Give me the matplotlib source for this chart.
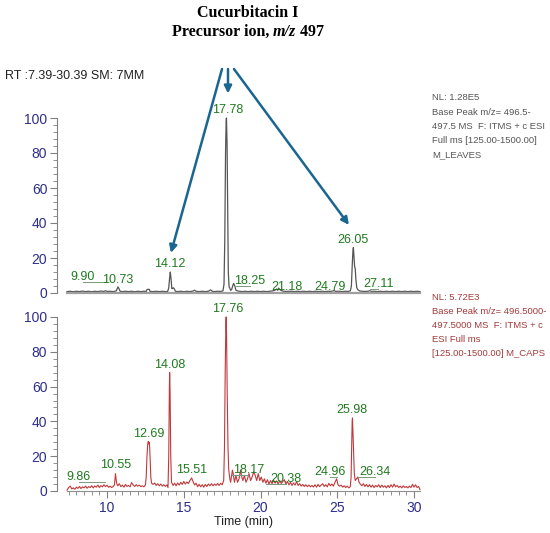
import matplotlib
matplotlib.use('Agg')
import matplotlib.pyplot as plt
from matplotlib.ticker import MultipleLocator

plt.rcParams['font.family'] = ['Liberation Sans', 'DejaVu Sans']

# ---- leaves trace (gray, top) : time (min), relative abundance (%)
top_t = [7.39, 7.6, 7.8, 8.0, 8.2, 8.4, 8.6, 8.8, 9.0, 9.2, 9.4, 9.6, 9.8, 9.9, 10.0,
         10.2, 10.4, 10.6, 10.66, 10.71, 10.77, 10.85, 11.0, 11.2, 11.4, 11.6, 11.8,
         12.0, 12.2, 12.4, 12.55, 12.6, 12.75, 12.8, 13.0, 13.2, 13.4, 13.6, 13.8,
         13.95, 14.02, 14.08, 14.12, 14.17, 14.22, 14.27, 14.32, 14.38, 14.45, 14.6,
         14.8, 15.0, 15.2, 15.4, 15.6, 15.7, 15.8, 16.0, 16.2, 16.4, 16.6, 16.75,
         16.85, 17.0, 17.2, 17.4, 17.55, 17.62, 17.67, 17.72, 17.76, 17.78, 17.82,
         17.86, 17.9, 17.95, 18.0, 18.05, 18.12, 18.2, 18.25, 18.32, 18.4, 18.6,
         18.8, 19.0, 19.2, 19.4, 19.6, 19.8, 20.0, 20.2, 20.4, 20.6, 20.8, 20.95,
         21.05, 21.12, 21.18, 21.25, 21.35, 21.5, 21.7, 22.0, 22.2, 22.4, 22.6, 22.8,
         23.0, 23.2, 23.4, 23.6, 23.8, 24.0, 24.2, 24.4, 24.6, 24.79, 24.9, 25.1,
         25.3, 25.5, 25.7, 25.85, 25.92, 25.97, 26.02, 26.05, 26.09, 26.13, 26.17,
         26.21, 26.27, 26.35, 26.45, 26.6, 26.8, 27.0, 27.11, 27.25, 27.4, 27.6,
         27.8, 28.0, 28.2, 28.4, 28.6, 28.8, 29.0, 29.2, 29.4, 29.6, 29.8, 30.0,
         30.2, 30.39]
top_i = [0.8, 1.0, 0.7, 1.0, 0.8, 1.1, 0.8, 1.0, 0.7, 1.0, 0.8, 1.1, 0.9, 1.3, 0.9,
         1.0, 0.8, 1.2, 2.5, 3.5, 2.6, 1.0, 0.8, 1.0, 0.8, 1.0, 0.7,
         1.0, 0.8, 1.0, 0.9, 2.0, 2.1, 0.9, 0.8, 1.0, 0.8, 1.0, 0.8,
         0.9, 3.0, 9.0, 12.0, 8.0, 2.5, 2.6, 3.0, 2.4, 1.0, 0.8,
         1.0, 0.7, 1.0, 0.8, 1.1, 1.6, 1.0, 0.8, 1.0, 0.8, 1.0, 1.8,
         1.0, 0.8, 1.0, 0.9, 1.2, 5.0, 30.0, 80.0, 98.0, 100.0, 85.0,
         45.0, 12.0, 3.5, 2.8, 1.5, 2.0, 4.5, 5.5, 4.0, 1.5, 1.0,
         0.8, 1.0, 0.8, 1.0, 0.8, 1.0, 0.8, 1.0, 0.8, 1.0, 1.2, 1.6,
         2.3, 1.5, 2.8, 2.0, 1.4, 1.0, 0.9, 1.0, 0.8, 1.0, 0.8, 1.0,
         0.8, 1.0, 0.8, 1.0, 0.8, 1.0, 0.8, 1.0, 0.9, 1.4, 0.9, 1.0,
         0.8, 1.0, 0.9, 1.2, 4.0, 15.0, 24.0, 26.0, 20.0, 15.0, 14.0,
         8.0, 3.0, 1.8, 1.2, 1.0, 0.9, 1.0, 1.3, 0.9, 1.0, 0.8,
         1.0, 0.8, 1.0, 0.8, 1.0, 0.8, 1.0, 0.8, 1.0, 0.8, 1.0, 0.8,
         1.0, 0.8]

# ---- caps trace (red, bottom)
bot_t = [7.39, 7.5, 7.6, 7.7, 7.8, 7.9, 8.0, 8.1, 8.2, 8.3, 8.4, 8.5, 8.6, 8.7, 8.8,
         8.9, 9.0, 9.1, 9.2, 9.3, 9.4, 9.5, 9.6, 9.7, 9.8, 9.9, 10.0, 10.1, 10.2,
         10.3, 10.4, 10.48, 10.52, 10.55, 10.59, 10.64, 10.7, 10.8, 10.9, 11.0, 11.1,
         11.2, 11.3, 11.4, 11.5, 11.6, 11.7, 11.8, 11.9, 12.0, 12.1, 12.2, 12.3,
         12.4, 12.5, 12.55, 12.6, 12.65, 12.69, 12.72, 12.76, 12.8, 12.85, 12.9,
         13.0, 13.1, 13.2, 13.3, 13.4, 13.5, 13.6, 13.7, 13.8, 13.9, 13.97, 14.02,
         14.06, 14.08, 14.11, 14.15, 14.2, 14.3, 14.4, 14.5, 14.6, 14.7, 14.8, 14.9,
         15.0, 15.1, 15.2, 15.3, 15.4, 15.51, 15.6, 15.7, 15.8, 15.9, 16.0, 16.1,
         16.2, 16.3, 16.4, 16.5, 16.6, 16.7, 16.8, 16.9, 17.0, 17.1, 17.2, 17.3,
         17.4, 17.5, 17.6, 17.65, 17.7, 17.74, 17.76, 17.79, 17.83, 17.88, 17.93,
         18.0, 18.05, 18.1, 18.17, 18.22, 18.3, 18.4, 18.5, 18.6, 18.7, 18.78,
         18.85, 18.95, 19.05, 19.15, 19.25, 19.35, 19.45, 19.55, 19.65, 19.75,
         19.85, 19.95, 20.05, 20.15, 20.25, 20.35, 20.45, 20.55, 20.65, 20.75,
         20.85, 20.95, 21.05, 21.15, 21.25, 21.35, 21.45, 21.55, 21.65, 21.75,
         21.85, 21.95, 22.05, 22.15, 22.25, 22.35, 22.45, 22.55, 22.65, 22.75,
         22.85, 22.95, 23.05, 23.15, 23.25, 23.35, 23.45, 23.55, 23.65, 23.75,
         23.85, 23.95, 24.05, 24.15, 24.25, 24.35, 24.45, 24.55, 24.65, 24.75,
         24.85, 24.96, 25.05, 25.15, 25.25, 25.35, 25.45, 25.55, 25.65, 25.75,
         25.85, 25.9, 25.94, 25.97, 25.99, 26.02, 26.04, 26.07, 26.11, 26.17,
         26.25, 26.34, 26.42, 26.5, 26.6, 26.7, 26.8, 26.9, 27.0, 27.1, 27.2,
         27.3, 27.4, 27.5, 27.6, 27.7, 27.8, 27.9, 28.0, 28.1, 28.2, 28.3, 28.4,
         28.5, 28.6, 28.7, 28.8, 28.9, 29.0, 29.1, 29.2, 29.3, 29.4, 29.5, 29.6,
         29.7, 29.8, 29.9, 30.0, 30.1, 30.2, 30.3, 30.39]
bot_i = [0.5, 2.0, 2.8, 1.2, 1.8, 1.0, 2.2, 1.5, 2.6, 1.4, 2.4, 1.8, 2.8, 1.6, 2.5,
         2.0, 3.0, 1.8, 2.9, 2.2, 3.4, 2.0, 3.1, 2.4, 3.6, 2.5, 3.3, 2.1, 2.8,
         2.0, 2.6, 3.5, 7.5, 10.0, 6.5, 4.0, 3.0, 4.2, 2.5, 3.4, 2.2,
         3.8, 2.6, 3.2, 2.4, 4.8, 3.5, 2.6, 3.6, 2.8, 3.4, 2.5, 3.0,
         2.4, 3.5, 8.0, 20.0, 27.0, 28.5, 27.0, 28.0, 20.0, 8.0, 4.5,
         3.8, 4.6, 3.2, 4.2, 3.0, 4.0, 2.8, 3.6, 2.7, 3.5, 2.0, 20.0,
         60.0, 68.0, 55.0, 20.0, 5.0, 3.2, 4.5, 3.0, 4.6, 3.4, 5.0, 3.8,
         5.5, 4.0, 5.2, 4.2, 6.0, 7.5, 5.5, 3.5, 4.5, 2.5, 3.8, 2.4,
         3.6, 2.2, 3.8, 2.6, 4.0, 3.0, 4.2, 3.0, 4.0, 3.2, 4.3, 3.2,
         4.4, 3.6, 6.0, 25.0, 70.0, 95.0, 100.0, 88.0, 55.0, 25.0, 12.0,
         7.0, 5.0, 8.0, 12.0, 10.0, 5.0, 9.0, 5.0, 7.0, 12.0, 8.0,
         6.0, 9.0, 5.0, 7.0, 10.0, 6.0, 8.0, 11.0, 9.0, 6.0,
         10.0, 6.0, 8.0, 5.0, 7.0, 4.5, 6.5, 4.0, 6.0, 4.2,
         6.2, 4.5, 5.8, 4.0, 6.0, 4.3, 5.4, 6.5, 4.0, 5.5,
         3.5, 5.0, 3.2, 4.6, 3.4, 5.4, 3.2, 4.2, 2.8, 3.8,
         2.6, 3.6, 2.5, 3.4, 2.4, 3.2, 2.3, 3.6, 2.2, 3.8,
         2.5, 3.4, 4.2, 2.6, 3.6, 2.4, 4.4, 3.0, 4.0, 2.8,
         5.0, 7.0, 3.5, 2.8, 3.4, 2.2, 3.0, 2.0, 2.8, 1.8,
         2.5, 8.0, 25.0, 40.0, 42.0, 35.0, 29.0, 20.0, 10.0, 6.0,
         7.0, 8.0, 5.0, 4.0, 3.0, 4.2, 2.6, 3.8, 2.4, 3.6, 2.2,
         3.4, 2.0, 3.2, 2.4, 3.6, 2.0, 3.4, 2.2, 3.0, 1.8, 3.2, 2.0,
         3.6, 2.2, 4.0, 2.4, 3.2, 2.0, 2.8, 1.8, 3.0, 2.0, 2.6, 1.8,
         2.8, 2.0, 3.8, 2.2, 3.6, 2.0, 2.6, 0.8]

# peak annotations: retention time and where the label sits (time, height)
top_peaks = [9.90, 10.73, 14.12, 17.78, 18.25, 21.18, 24.79, 26.05, 27.11]
top_label_pos = [(8.4, 7.4), (10.68, 5.7), (14.1, 15), (17.85, 103), (19.3, 5),
                 (21.72, 1.9), (24.5, 1.9), (26.02, 28.5), (27.68, 3.4)]
bot_peaks = [9.86, 10.55, 12.69, 14.08, 15.51, 17.76, 18.17, 20.38, 24.96, 25.98, 26.34]
bot_label_pos = [(8.17, 6.3), (10.58, 13), (12.7, 31), (14.1, 70.7), (15.5, 10.3),
                 (17.85, 103), (19.2, 10.6), (21.66, 5), (24.52, 9), (25.96, 45),
                 (27.45, 9)]

top_info = ["NL: 1.28E5", "Base Peak m/z= 496.5-", "497.5 MS  F: ITMS + c ESI",
            "Full ms [125.00-1500.00]", "M_LEAVES"]
bot_info = ["NL: 5.72E3", "Base Peak m/z= 496.5000-", "497.5000 MS  F: ITMS + c",
            "ESI Full ms", "[125.00-1500.00] M_CAPS"]

W, H = 550, 533
fig = plt.figure(figsize=(W / 100, H / 100), dpi=100)
ax_top = fig.add_axes([67 / W, 240 / H, 353 / W, 175 / H])
ax_bot = fig.add_axes([67 / W, 42 / H, 353 / W, 174 / H])

tick_blue = '#2e2e8c'
green = '#1f7a1f'

for ax in (ax_top, ax_bot):
    ax.set_xlim(7.39, 30.39)
    ax.set_ylim(0, 100)
    ax.spines['top'].set_visible(False)
    ax.spines['right'].set_visible(False)
    ax.spines['left'].set_position(('outward', 7.2))
    ax.spines['left'].set_color('#808080')
    ax.spines['bottom'].set_color('#909090')
    ax.yaxis.set_major_locator(MultipleLocator(20))
    ax.yaxis.set_minor_locator(MultipleLocator(4))
    ax.tick_params(axis='y', which='major', length=5, color='#808080',
                   labelcolor=tick_blue, labelsize=10, pad=2)
    ax.tick_params(axis='y', which='minor', length=3, color='#808080')
    ax.set_facecolor('none')

ax_top.tick_params(axis='x', which='both', length=0, labelbottom=False)
ax_top.spines['bottom'].set_linewidth(1.6)
ax_top.spines['bottom'].set_color('#a0a0a0')

ax_bot.xaxis.set_major_locator(MultipleLocator(5))
ax_bot.xaxis.set_minor_locator(MultipleLocator(0.5))
ax_bot.tick_params(axis='x', which='major', length=5, color='#808080',
                   labelcolor=tick_blue, labelsize=10, pad=2)
ax_bot.tick_params(axis='x', which='minor', length=3, color='#808080')
ax_bot.set_xlabel('Time (min)', fontsize=9, labelpad=1, color='#222222')

ax_top.plot(top_t, top_i, color='#555555', lw=0.9, clip_on=False)
ax_bot.plot(bot_t, bot_i, color='#c0393b', lw=0.8, clip_on=False)


def label_peaks(ax, peaks, positions):
    for rt, (lx, ly) in zip(peaks, positions):
        ax.text(lx, ly, f"{rt:.2f}", ha='center', va='baseline', fontsize=9,
                color=green)
        if abs(lx - rt) > 0.25:
            ax.plot([lx, rt], [ly - 1.2, ly - 1.2], color='#7a9a7a', lw=0.7,
                    clip_on=False)


label_peaks(ax_top, top_peaks, top_label_pos)
label_peaks(ax_bot, bot_peaks, bot_label_pos)

# arrows from the header down to the three leaf peaks
arrow_kw = dict(arrowstyle='-|>', color='#1a6690', lw=1.8, mutation_scale=11,
                shrinkA=0, shrinkB=0)
ax_top.annotate('', xy=(14.16, 22.9), xytext=(17.49, 128), arrowprops=arrow_kw,
                annotation_clip=False)
ax_top.annotate('', xy=(17.88, 114), xytext=(17.88, 128), arrowprops=arrow_kw,
                annotation_clip=False)
ax_top.annotate('', xy=(25.76, 38.9), xytext=(18.27, 128), arrowprops=arrow_kw,
                annotation_clip=False)

# side info
for k, line in enumerate(top_info):
    fig.text(432 / W, 1 - (98 + 14.2 * k) / H, line, fontsize=6.8, color='#555555',
             va='center', ha='left')
for k, line in enumerate(bot_info):
    fig.text(432 / W, 1 - (297 + 14 * k) / H, line, fontsize=6.8, color='#a33a3a',
             va='center', ha='left')

fig.text(5 / W, 1 - 76 / H, 'RT :7.39-30.39 SM: 7MM', fontsize=9, color='#222222',
         va='center', ha='left')

# title, centred, with italic m/z
serif = ['Liberation Serif', 'DejaVu Serif']
fig.text(248 / W, 1 - 13 / H, 'Cucurbitacin I', fontsize=11.5, fontweight='bold',
         family=serif, ha='center', va='center')
parts = [('Precursor ion, ', 'normal'), ('m/z', 'italic'), (' 497', 'normal')]
r = fig.canvas.get_renderer()
texts = []
for s, st in parts:
    texts.append(fig.text(0, 1 - 36 / H, s, fontsize=11.5, fontweight='bold',
                          style=st, family=serif, ha='left', va='baseline'))
widths = [t.get_window_extent(r).width for t in texts]
x = 248 - sum(widths) / 2
for t, w in zip(texts, widths):
    t.set_x(x / W)
    x += w

fig.savefig('out.png', dpi=100)
